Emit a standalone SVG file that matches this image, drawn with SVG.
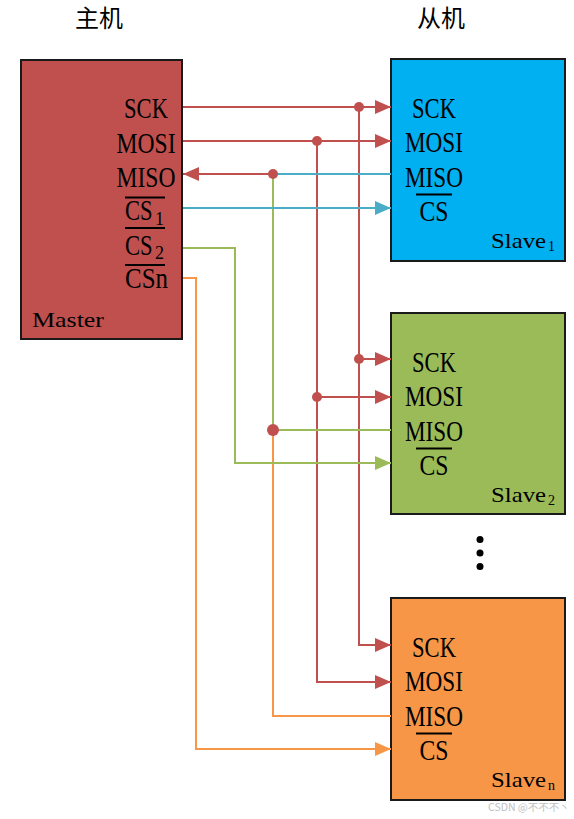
<svg xmlns="http://www.w3.org/2000/svg" width="574" height="819" viewBox="0 0 574 819">
<style>
.box{stroke:#1a1a1a;stroke-width:2}
.lbl{font-family:"Liberation Serif","Times New Roman",serif;font-size:29px;fill:#000}
.sub{font-family:"Liberation Serif","Times New Roman",serif;font-size:18px;fill:#000}
.mono{font-family:"Liberation Serif","Times New Roman",serif;font-size:21px;fill:#000}
.msub{font-size:14px}
.ttl{font-family:"Noto Sans CJK SC","Noto Sans",sans-serif;font-size:24px;fill:#000}
.ol{stroke:#000;stroke-width:2}
.w{fill:none;stroke-width:2}
.r{stroke:#C0504D}.b{stroke:#4BACC6}.g{stroke:#9BBB59}.o{stroke:#F79646}
</style>
<defs>
<marker id="ar" markerUnits="userSpaceOnUse" markerWidth="16" markerHeight="14" refX="16" refY="7" orient="auto"><path d="M0,0 L16,7 L0,14 z" fill="#C0504D"/></marker>
<marker id="ab" markerUnits="userSpaceOnUse" markerWidth="16" markerHeight="14" refX="16" refY="7" orient="auto"><path d="M0,0 L16,7 L0,14 z" fill="#4BACC6"/></marker>
<marker id="ag" markerUnits="userSpaceOnUse" markerWidth="16" markerHeight="14" refX="16" refY="7" orient="auto"><path d="M0,0 L16,7 L0,14 z" fill="#9BBB59"/></marker>
<marker id="ao" markerUnits="userSpaceOnUse" markerWidth="16" markerHeight="14" refX="16" refY="7" orient="auto"><path d="M0,0 L16,7 L0,14 z" fill="#F79646"/></marker>
</defs>

<text class="ttl" x="99" y="27" text-anchor="middle">主机</text>
<text class="ttl" x="441" y="27" text-anchor="middle">从机</text>

<g id="master">
<rect class="box" x="21" y="60" width="161" height="279" fill="#C0504D"/>
<text class="lbl" x="146" y="117.5" text-anchor="middle" textLength="44" lengthAdjust="spacingAndGlyphs">SCK</text>
<text class="lbl" x="146" y="152.5" text-anchor="middle" textLength="59" lengthAdjust="spacingAndGlyphs">MOSI</text>
<text class="lbl" x="146" y="186.5" text-anchor="middle" textLength="59" lengthAdjust="spacingAndGlyphs">MISO</text>
<line class="ol" x1="125" y1="197.5" x2="165" y2="197.5"/>
<text class="lbl" transform="translate(125,220) scale(0.78,1)">CS</text>
<text class="sub" x="155" y="224.5">1</text>
<line class="ol" x1="125" y1="228" x2="165" y2="228"/>
<text class="lbl" transform="translate(125,255) scale(0.78,1)">CS</text>
<text class="sub" x="155" y="258.5">2</text>
<line class="ol" x1="125" y1="265" x2="165" y2="265"/>
<text class="lbl" x="125" y="288" textLength="43" lengthAdjust="spacingAndGlyphs">CSn</text>
<text class="mono" x="32" y="327" textLength="72" lengthAdjust="spacingAndGlyphs">Master</text>
</g>

<g id="slave1">
<rect class="box" x="391" y="59" width="174" height="202" fill="#00B0F0"/>
<text class="lbl" x="434" y="118" text-anchor="middle" textLength="44" lengthAdjust="spacingAndGlyphs">SCK</text>
<text class="lbl" x="434" y="152" text-anchor="middle" textLength="58" lengthAdjust="spacingAndGlyphs">MOSI</text>
<text class="lbl" x="434" y="186.5" text-anchor="middle" textLength="58" lengthAdjust="spacingAndGlyphs">MISO</text>
<line class="ol" x1="416" y1="194.5" x2="452" y2="194.5"/>
<text class="lbl" x="434" y="221" text-anchor="middle" textLength="29" lengthAdjust="spacingAndGlyphs">CS</text>
<text class="mono" x="491" y="248"><tspan textLength="55" lengthAdjust="spacingAndGlyphs">Slave</tspan><tspan class="msub" x="548" dy="3">1</tspan></text>
</g>

<g id="slave2">
<rect class="box" x="391" y="313" width="174" height="201" fill="#9BBB59"/>
<text class="lbl" x="434" y="372" text-anchor="middle" textLength="44" lengthAdjust="spacingAndGlyphs">SCK</text>
<text class="lbl" x="434" y="406" text-anchor="middle" textLength="58" lengthAdjust="spacingAndGlyphs">MOSI</text>
<text class="lbl" x="434" y="440.5" text-anchor="middle" textLength="58" lengthAdjust="spacingAndGlyphs">MISO</text>
<line class="ol" x1="416" y1="448.5" x2="452" y2="448.5"/>
<text class="lbl" x="434" y="475" text-anchor="middle" textLength="29" lengthAdjust="spacingAndGlyphs">CS</text>
<text class="mono" x="491" y="502"><tspan textLength="55" lengthAdjust="spacingAndGlyphs">Slave</tspan><tspan class="msub" x="548" dy="3">2</tspan></text>
</g>

<g id="slaven">
<rect class="box" x="391" y="598" width="174" height="202" fill="#F79646"/>
<text class="lbl" x="434" y="657" text-anchor="middle" textLength="44" lengthAdjust="spacingAndGlyphs">SCK</text>
<text class="lbl" x="434" y="691" text-anchor="middle" textLength="58" lengthAdjust="spacingAndGlyphs">MOSI</text>
<text class="lbl" x="434" y="725.5" text-anchor="middle" textLength="58" lengthAdjust="spacingAndGlyphs">MISO</text>
<line class="ol" x1="416" y1="733.5" x2="452" y2="733.5"/>
<text class="lbl" x="434" y="760" text-anchor="middle" textLength="29" lengthAdjust="spacingAndGlyphs">CS</text>
<text class="mono" x="491" y="787"><tspan textLength="55" lengthAdjust="spacingAndGlyphs">Slave</tspan><tspan class="msub" x="548" dy="3">n</tspan></text>
</g>

<g id="ellipsis" fill="#000">
<circle cx="480" cy="539.5" r="3.5"/>
<circle cx="480" cy="553" r="3.5"/>
<circle cx="480" cy="566.5" r="3.5"/>
</g>

<g id="connectors">
<path class="w r" d="M183,107 H391" marker-end="url(#ar)"/>
<path class="w r" d="M359,107 V645 H391" marker-end="url(#ar)"/>
<path class="w r" d="M359,359 H391" marker-end="url(#ar)"/>
<path class="w r" d="M183,141 H391" marker-end="url(#ar)"/>
<path class="w r" d="M317,141 V682 H391" marker-end="url(#ar)"/>
<path class="w r" d="M317,397 H391" marker-end="url(#ar)"/>
<path class="w b" d="M273,174 H391"/>
<path class="w r" d="M273,174 H183" marker-end="url(#ar)"/>
<path class="w g" d="M273,174 V430 H391"/>
<path class="w o" d="M273,430 V716 H391"/>
<path class="w b" d="M183,208 H391" marker-end="url(#ab)"/>
<path class="w g" d="M183,248 H235 V463 H391" marker-end="url(#ag)"/>
<path class="w o" d="M183,278 H196 V749 H391" marker-end="url(#ao)"/>
<g fill="#C0504D">
<circle cx="359" cy="107" r="5"/>
<circle cx="317" cy="141" r="5"/>
<circle cx="273" cy="174" r="5"/>
<circle cx="359" cy="359" r="5"/>
<circle cx="317" cy="397" r="5"/>
<circle cx="273" cy="430" r="6"/>
</g>
</g>

<text x="488" y="811" font-family="'Noto Sans CJK SC','Noto Sans',sans-serif" font-size="10.5" fill="#c0c0c0">CSDN @不不不丶</text>
</svg>
